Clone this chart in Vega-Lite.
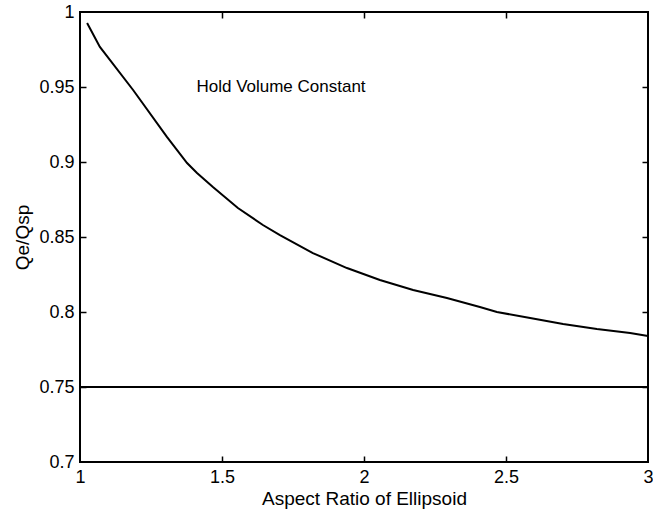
{
  "$schema": "https://vega.github.io/schema/vega-lite/v6.json",
  "width": 568,
  "height": 450,
  "autosize": {"type": "none"},
  "padding": {"left": 80, "top": 12, "right": 5, "bottom": 60},
  "background": "white",
  "config": {
    "view": {"stroke": "black", "strokeWidth": 2},
    "font": "Liberation Sans",
    "axis": {
      "grid": false,
      "domain": false,
      "labelColor": "black",
      "labelFont": "Liberation Sans",
      "labelFontSize": 18,
      "titleFont": "Liberation Sans",
      "titleFontSize": 19,
      "titleFontWeight": "normal",
      "titleColor": "black"
    }
  },
  "datasets": {
    "curve": [
      {"ratio": 1.025, "q": 0.9927},
      {"ratio": 1.07, "q": 0.9767},
      {"ratio": 1.187, "q": 0.948},
      {"ratio": 1.306, "q": 0.9167},
      {"ratio": 1.377, "q": 0.8993},
      {"ratio": 1.412, "q": 0.8927},
      {"ratio": 1.468, "q": 0.8833},
      {"ratio": 1.556, "q": 0.8693},
      {"ratio": 1.644, "q": 0.858},
      {"ratio": 1.704, "q": 0.8513},
      {"ratio": 1.82, "q": 0.8393},
      {"ratio": 1.94, "q": 0.8293},
      {"ratio": 2.056, "q": 0.8213},
      {"ratio": 2.173, "q": 0.8147},
      {"ratio": 2.292, "q": 0.8093},
      {"ratio": 2.408, "q": 0.8033},
      {"ratio": 2.468, "q": 0.8},
      {"ratio": 2.585, "q": 0.796},
      {"ratio": 2.701, "q": 0.792},
      {"ratio": 2.82, "q": 0.7887},
      {"ratio": 2.937, "q": 0.786},
      {"ratio": 3.0, "q": 0.784}
    ],
    "ref": [{"q": 0.75}],
    "note": [{"ratio": 1.41, "q": 0.95, "label": "Hold Volume Constant"}]
  },
  "layer": [
    {
      "data": {"name": "curve"},
      "mark": {"type": "line", "color": "black", "strokeWidth": 2},
      "encoding": {
        "x": {
          "field": "ratio", "type": "quantitative",
          "scale": {"domain": [1, 3], "nice": false, "zero": false},
          "axis": {"orient": "bottom", "values": [1, 1.5, 2, 2.5, 3], "format": ".1~f", "ticks": false, "labelPadding": 6, "title": "Aspect Ratio of Ellipsoid", "titlePadding": 3, "labelFlush": false}
        },
        "y": {
          "field": "q", "type": "quantitative",
          "scale": {"domain": [0.7, 1], "nice": false, "zero": false},
          "axis": {"orient": "left", "values": [0.7, 0.75, 0.8, 0.85, 0.9, 0.95, 1], "format": ".2~f", "ticks": false, "labelPadding": 6, "title": "Qe/Qsp", "titlePadding": 6, "labelFlush": false}
        }
      }
    },
    {
      "data": {"name": "curve"},
      "mark": {"type": "line", "opacity": 0},
      "encoding": {
        "x": {
          "field": "ratio", "type": "quantitative",
          "axis": {"orient": "bottom", "values": [1.5, 2, 2.5], "labels": false, "ticks": true, "title": null, "tickSize": 6, "tickColor": "black", "tickWidth": 1.5, "offset": -6}
        },
        "y": {
          "field": "q", "type": "quantitative",
          "axis": {"orient": "left", "values": [0.75, 0.8, 0.85, 0.9, 0.95], "labels": false, "ticks": true, "title": null, "tickSize": 6, "tickColor": "black", "tickWidth": 1.5, "offset": -6}
        }
      }
    },
    {
      "data": {"name": "curve"},
      "mark": {"type": "line", "opacity": 0},
      "encoding": {
        "x": {
          "field": "ratio", "type": "quantitative",
          "axis": {"orient": "top", "values": [1.5, 2, 2.5], "labels": false, "ticks": true, "title": null, "tickSize": 6, "tickColor": "black", "tickWidth": 1.5, "offset": -6}
        },
        "y": {
          "field": "q", "type": "quantitative",
          "axis": {"orient": "right", "values": [0.75, 0.8, 0.85, 0.9, 0.95], "labels": false, "ticks": true, "title": null, "tickSize": 6, "tickColor": "black", "tickWidth": 1.5, "offset": -6}
        }
      }
    },
    {
      "data": {"name": "ref"},
      "mark": {"type": "rule", "color": "black", "strokeWidth": 2},
      "encoding": {"y": {"field": "q", "type": "quantitative", "axis": null}}
    },
    {
      "data": {"name": "note"},
      "mark": {"type": "text", "align": "left", "baseline": "middle", "fontSize": 17, "font": "Liberation Sans", "color": "black"},
      "encoding": {
        "x": {"field": "ratio", "type": "quantitative", "axis": null},
        "y": {"field": "q", "type": "quantitative", "axis": null},
        "text": {"field": "label"}
      }
    }
  ],
  "resolve": {"axis": {"x": "independent", "y": "independent"}}
}
